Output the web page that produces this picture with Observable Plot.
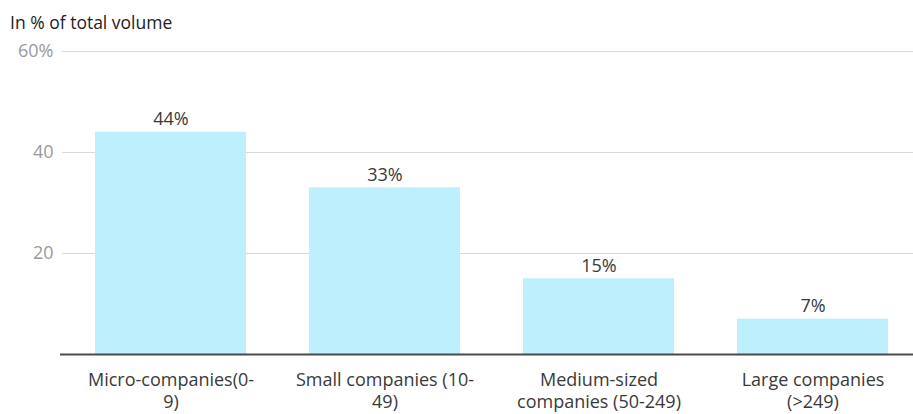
<!DOCTYPE html>
<html>
<head>
<meta charset="utf-8">
<script src="https://cdn.jsdelivr.net/npm/d3@7"></script>
<script src="https://cdn.jsdelivr.net/npm/@observablehq/plot@0.6"></script>
<style>
  html, body { margin: 0; padding: 0; background: #fff; }
  body { width: 913px; height: 414px; overflow: hidden; font-family: "Open Sans", sans-serif; }
  #title { position: absolute; left: 10px; top: 11px; font-size: 17.5px; color: #222; line-height: 22px; }
  #chart { position: absolute; left: 0; top: 32px; }
</style>
</head>
<body>
<div id="title">In % of total volume</div>
<div id="chart"></div>
<script>
const categories = ["Micro-companies(0-9)", "Small companies (10-49)", "Medium-sized companies (50-249)", "Large companies (>249)"];
const tickLabels = ["Micro-companies(0-\n9)", "Small companies (10-\n49)", "Medium-sized\ncompanies (50-249)", "Large companies\n(>249)"];
const values = [44, 33, 15, 7];
const valueLabels = ["44%", "33%", "15%", "7%"];
const yTicks = [20, 40, 60];
const yTickLabels = ["20", "40", "60%"];

const data = categories.map((c, i) => ({category: c, value: values[i], label: valueLabels[i]}));
const tickMap = new Map(categories.map((c, i) => [c, tickLabels[i]]));
const yMap = new Map(yTicks.map((t, i) => [t, yTickLabels[i]]));

const chart = Plot.plot({
  width: 913,
  height: 382,
  marginLeft: 69,
  marginRight: 0,
  marginTop: 19,
  marginBottom: 60,
  style: {fontFamily: "'Open Sans', sans-serif", fontSize: "18px", background: "#fff"},
  x: {domain: categories, paddingInner: 0.2954, paddingOuter: 0.1167, label: null},
  y: {domain: [0, 60], label: null},
  marks: [
    Plot.ruleY(yTicks, {stroke: "#d9d9d9", strokeWidth: 1, insetLeft: -7}),
    Plot.axisY(yTicks, {tickSize: 0, tickPadding: 16, tickFormat: d => yMap.get(d), fill: "#9a9a9a", fontSize: 18, label: null}),
    Plot.barY(data, {x: "category", y: "value", fill: "#bdeffd"}),
    Plot.text(data, {x: "category", y: "value", text: "label", dy: -13, fill: "#3a3a3a", fontSize: 18}),
    Plot.ruleY([0], {stroke: "#4a4a4a", strokeWidth: 2, insetLeft: -9}),
    Plot.axisX({tickSize: 0, tickPadding: 16, tickFormat: d => tickMap.get(d), fill: "#3a3a3a", fontSize: 18, lineHeight: 1.22, lineAnchor: "top", label: null})
  ]
});
document.getElementById("chart").appendChild(chart);
</script>
</body>
</html>
